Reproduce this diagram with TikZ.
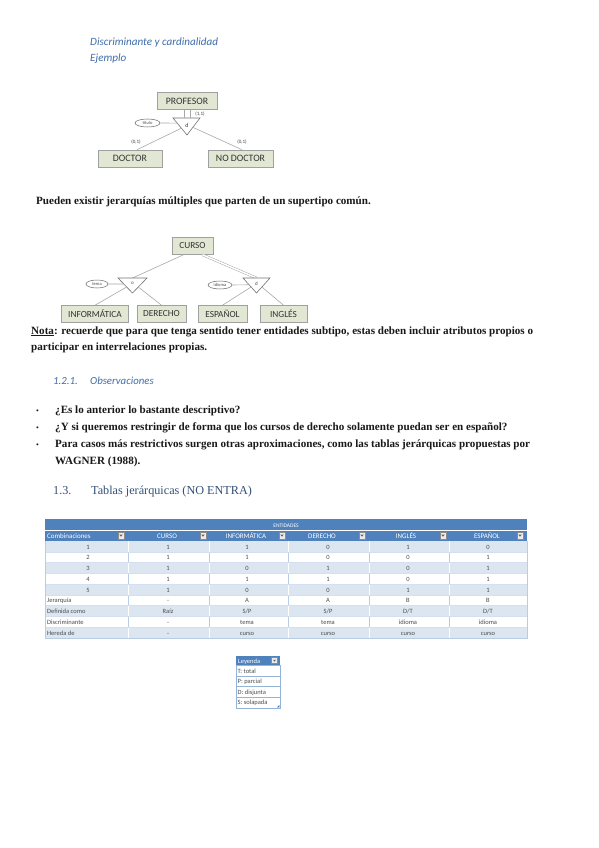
\documentclass[tikz,border=0pt]{standalone}
\usepackage{fontspec}
\setmainfont{Liberation Serif}
\newfontfamily\calfont{Carlito}
\usetikzlibrary{calc,shapes.geometric}
\definecolor{hblue}{HTML}{3F6DAA}
\definecolor{tblue}{HTML}{4F81BD}
\definecolor{band}{HTML}{DCE6F1}
\definecolor{gridc}{HTML}{B8CCE4}
\definecolor{legb}{HTML}{95B3D7}
\definecolor{boxfill}{HTML}{E2E7D3}
\definecolor{boxline}{HTML}{A0A0A0}
\definecolor{linec}{HTML}{A8A8A8}
\definecolor{titc}{HTML}{34507A}
\begin{document}
\begin{tikzpicture}[x=1pt,y=-1pt,
  ent/.style={draw=boxline, fill=boxfill, line width=0.6pt, font=\calfont\fontsize{9.8}{10}\selectfont, text=black!80, inner sep=0pt, minimum height=17pt},
  attr/.style={ellipse, draw=black!60, fill=white, line width=0.5pt, font=\calfont\fontsize{4.5}{5}\selectfont, text=black!70, inner sep=0pt, minimum width=23pt, minimum height=8pt},
  conn/.style={draw=linec, line width=0.6pt},
  dconn/.style={draw=linec, line width=0.5pt, double=white, double distance=1.5pt},
  tri/.style={draw=black!55, fill=white, line width=0.6pt},
  small/.style={font=\calfont\fontsize{5}{6}\selectfont, text=black!75, inner sep=0pt},
  body/.style={anchor=base west, inner sep=0pt, font=\bfseries\fontsize{11.1}{12}\selectfont, text=black!90},
  ital/.style={anchor=base west, inner sep=0pt, font=\calfont\itshape\fontsize{11.1}{12}\selectfont, text=hblue},
  cell/.style={font=\calfont\fontsize{6.5}{7}\selectfont, text=black!70, inner sep=0pt, anchor=base},
  hcell/.style={font=\calfont\fontsize{7}{8}\selectfont, text=white, inner sep=0pt, anchor=base},
  ddbox/.style={draw=black!45, fill=black!8, line width=0.4pt, minimum size=6.5pt, inner sep=0pt}
]
\useasboundingbox[fill=white] (0,0) rectangle (599,848);

% ---------- headings ----------
\node[ital] (h1) at (90,46) {Discriminante y cardinalidad};
\node[ital] (h2) at (90,62) {Ejemplo};

% ---------- diagram 1 ----------
\node[ent, minimum width=60pt] (prof) at (187,101) {PROFESOR};
\node[ent, minimum width=64pt] (doc) at (130,158.5) {DOCTOR};
\node[ent, minimum width=65pt] (nodoc) at (240.5,158.5) {NO DOCTOR};
\coordinate (t1a) at (173,118);
\coordinate (t1b) at (200,118);
\coordinate (t1c) at (187,135);
\coordinate (t1top) at ($(t1a)!0.55!(t1b)$);
\draw[tri] (t1a) -- (t1b) -- (t1c) -- cycle;
\node[small, font=\calfont\fontsize{6}{6}\selectfont] (t1d) at (187,125) {d};
\node[attr, minimum width=25pt] (tit) at (147.5,123) {titulo};
\draw[conn] (prof.south) ++(-2.5,0) coordinate (p1) -- (p1 |- t1top);
\draw[conn] (prof.south) ++(3.5,0) coordinate (p2) -- (p2 |- t1top);
\draw[conn] (tit.east) -- ($(t1a)!0.3!(t1c)$);
\draw[conn] ($(t1a)!0.6!(t1c)$) -- ([xshift=7pt]doc.north);
\draw[conn] ($(t1b)!0.55!(t1c)$) -- ([xshift=1.5pt]nodoc.north);
\node[small] (c11) at (200,114.5) {(1,1)};
\node[small] (c01a) at (136,142.5) {(0,1)};
\node[small] (c01b) at (242,142.5) {(0,1)};

% ---------- text ----------
\node[body] (t2) at (36,204) {Pueden existir jerarquías múltiples que parten de un supertipo común.};

% ---------- diagram 2 ----------
\node[ent, minimum width=41pt, font=\calfont\fontsize{9.3}{10}\selectfont] (curso) at (192.5,246) {CURSO};
\node[ent, minimum width=67pt, font=\calfont\fontsize{9.3}{10}\selectfont] (inf) at (95,314) {INFORMÁTICA};
\node[ent, minimum width=49pt, font=\calfont\fontsize{9.3}{10}\selectfont] (der) at (161.5,314) {DERECHO};
\node[ent, minimum width=49pt, font=\calfont\fontsize{9.3}{10}\selectfont] (esp) at (222.5,314) {ESPAÑOL};
\node[ent, minimum width=47pt, font=\calfont\fontsize{9.3}{10}\selectfont] (ing) at (283.5,314) {INGLÉS};
\coordinate (u1a) at (118,278);
\coordinate (u1b) at (147,278);
\coordinate (u1c) at (132.5,293);
\coordinate (u2a) at (243,278);
\coordinate (u2b) at (270,278);
\coordinate (u2c) at (256.5,293);
\draw[conn] ([xshift=-9pt]curso.south) -- ($(u1a)!0.5!(u1b)$);
\draw[dconn] ([xshift=10pt]curso.south) -- ($(u2a)!0.5!(u2b)$);
\draw[tri] (u1a) -- (u1b) -- (u1c) -- cycle;
\draw[tri] (u2a) -- (u2b) -- (u2c) -- cycle;
\node[small] (u1o) at (132.5,283.5) {o};
\node[small] (u2d) at (256.5,283.5) {d};
\node[attr, minimum width=22pt] (tema) at (97,284) {tema};
\node[attr, minimum width=24pt] (idi) at (220,285) {idioma};
\draw[conn] (tema.east) -- ($(u1a)!0.4!(u1c)$);
\draw[conn] (idi.east) -- ($(u2a)!0.45!(u2c)$);
\draw[conn] ($(u1a)!0.6!(u1c)$) -- (inf.north);
\draw[conn] ($(u1b)!0.6!(u1c)$) -- (der.north);
\draw[conn] ($(u2a)!0.6!(u2c)$) -- (esp.north);
\draw[conn] ($(u2b)!0.6!(u2c)$) -- (ing.north);

% ---------- nota ----------
\node[body] (n1) at (31,334) {\underline{Nota}: recuerde que para que tenga sentido tener entidades subtipo, estas deben incluir atributos propios o};
\node[body] (n2) at (31,350) {participar en interrelaciones propias.};

\node[ital, font=\calfont\itshape\fontsize{10.8}{12}\selectfont] (obsn) at (53,384) {1.2.1.};
\node[ital, font=\calfont\itshape\fontsize{10.8}{12}\selectfont] (obs) at (90,384) {Observaciones};

\foreach \yy/\nm in {413/b1,430/b2,447/b3}{
  \node[body, font=\fontsize{8}{10}\selectfont] (\nm) at (36,\yy) {•};
}
\node[body] (l1) at (55,413) {¿Es lo anterior lo bastante descriptivo?};
\node[body] (l2) at (55,430) {¿Y si queremos restringir de forma que los cursos de derecho solamente puedan ser en español?};
\node[body] (l3) at (55,447) {Para casos más restrictivos surgen otras aproximaciones, como las tablas jerárquicas propuestas por};
\node[body] (l4) at (55,464) {WAGNER (1988).};

\node[anchor=base west, inner sep=0pt, font=\fontsize{12.2}{15}\selectfont, text=titc] (s13) at (53,494) {1.3.};
\node[anchor=base west, inner sep=0pt, font=\fontsize{12.2}{15}\selectfont, text=titc] (s13t) at (91,494) {Tablas jerárquicas (NO ENTRA)};

% ---------- table ----------
\fill[tblue] (45,519) rectangle (527,541);
\draw[white, line width=0.4pt] (45,530) -- (527,530);
\foreach \r in {0,2,4,6,8}{
  \fill[band] (45,{541+10.75*\r}) rectangle (527,{541+10.75*(\r+1)});
}
\foreach \r in {1,3,5,7}{
  \foreach \xx in {128,209,288,369,449}{
    \draw[gridc, line width=0.4pt] (\xx,{541+10.75*\r}) -- (\xx,{541+10.75*(\r+1)});
  }
}
\foreach \r in {0,2,4,6,8}{
  \foreach \xx in {128,209,288,369,449}{
    \draw[white, line width=0.5pt] (\xx,{541+10.75*\r}) -- (\xx,{541+10.75*(\r+1)});
  }
}
\foreach \r in {1,...,8}{
  \draw[gridc!60, line width=0.3pt] (45,{541+10.75*\r}) -- (527,{541+10.75*\r});
}
\draw[gridc, line width=0.4pt] (45,541) -- (45,637.75) -- (527,637.75) -- (527,541);
\node[hcell, font=\calfont\fontsize{5.5}{6}\selectfont] (ent) at (286,527) {ENTIDADES};
\node[hcell, anchor=base west] (hc0) at (47,538.5) {Combinaciones};
\foreach \xx/\tx/\nm in {167/CURSO/hc1,246/INFORMÁTICA/hc2,322/DERECHO/hc3,406/INGLÉS/hc4,487/ESPAÑOL/hc5}{
  \node[hcell] (\nm) at (\xx,538.5) {\tx};
}
\foreach \xx/\nm in {121/dd0,203/dd1,282/dd2,362/dd3,443/dd4,520/dd5}{
  \node[ddbox] (\nm) at (\xx,535.5) {};
  \fill[black!60] (\xx-1.8,534.6) -- (\xx+1.8,534.6) -- (\xx,536.6) -- cycle;
}
% numeric rows
\foreach \r/\a/\b/\c/\d/\e/\f in {0/1/1/1/0/1/0, 1/2/1/1/0/0/1, 2/3/1/0/1/0/1, 3/4/1/1/1/0/1, 4/5/1/0/0/1/1}{
  \pgfmathsetmacro\yb{541+10.75*\r+8}
  \node[cell] (r\r a) at (88,\yb) {\a};
  \node[cell] (r\r b) at (168,\yb) {\b};
  \node[cell] (r\r c) at (247,\yb) {\c};
  \node[cell] (r\r d) at (328,\yb) {\d};
  \node[cell] (r\r e) at (408,\yb) {\e};
  \node[cell] (r\r f) at (488,\yb) {\f};
}
\foreach \r/\lab/\b/\c/\d/\e/\f in {5/Jerarquía/-/A/A/B/B, 6/Definida como/Raíz/S\slash P/S\slash P/D\slash T/D\slash T, 7/Discriminante/-/tema/tema/idioma/idioma, 8/Hereda de/-/curso/curso/curso/curso}{
  \pgfmathsetmacro\yb{541+10.75*\r+8}
  \node[cell, anchor=base west] (r\r a) at (47,\yb) {\lab};
  \node[cell] (r\r b) at (168,\yb) {\b};
  \node[cell] (r\r c) at (247,\yb) {\c};
  \node[cell] (r\r d) at (328,\yb) {\d};
  \node[cell] (r\r e) at (408,\yb) {\e};
  \node[cell] (r\r f) at (488,\yb) {\f};
}

% ---------- legend ----------
\fill[tblue] (236,656) rectangle (280,665);
\node[hcell, anchor=base west, font=\calfont\fontsize{6.5}{7}\selectfont] (legh) at (238,663) {Leyenda};
\node[ddbox, minimum size=6pt] (legdd) at (274.5,660.5) {};
\fill[black!60] (273,659.8) -- (276,659.8) -- (274.5,661.6) -- cycle;
\foreach \ya/\yb in {665/676,676/686.5,686.5/697,697/708}{
  \draw[legb, line width=0.5pt] (236,\ya) rectangle (280,\yb);
}
\foreach \yy/\tx/\nm in {673/T: total/lg1,683.8/P: parcial/lg2,694.3/D: disjunta/lg3,704.8/S: solapada/lg4}{
  \node[cell, anchor=base west, font=\calfont\fontsize{6.5}{7}\selectfont] (\nm) at (237.5,\yy) {\tx};
}
\fill[tblue!80!black] (279.3,705) -- (279.3,707.3) -- (277,707.3) -- cycle;
\end{tikzpicture}
\end{document}
